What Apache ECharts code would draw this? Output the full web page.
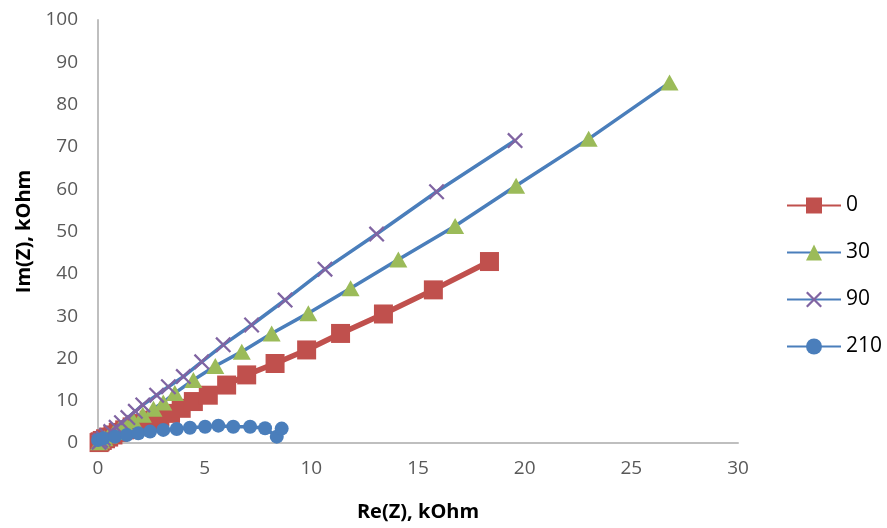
<!DOCTYPE html>
<html>
<head>
<meta charset="utf-8">
<script src="https://cdn.jsdelivr.net/npm/echarts@6/dist/echarts.min.js"></script>
<style>
	html, body { margin: 0; padding: 0; background: #fff; }
	#chart { width: 887px; height: 528px; }
</style>
</head>
<body>
<div id="chart"></div>
<script>
	// legend names
	var seriesNames = ['0', '30', '90', '210'];

	// series 0
	var re0 = [0.05, 0.1, 0.2, 0.35, 0.5, 0.7, 0.95, 1.25, 1.6, 2.0, 2.4, 2.9, 3.4, 3.9, 4.47, 5.17, 6.03, 6.97, 8.3, 9.78, 11.37, 13.38, 15.72, 18.35];
	var im0 = [0.1, 0.3, 0.6, 1.0, 1.4, 1.9, 2.5, 3.1, 3.8, 4.6, 5.4, 6.2, 7.0, 8.2, 9.8, 11.3, 13.7, 16.1, 18.8, 22.0, 25.9, 30.5, 36.2, 42.9];

	// series 30
	var re30 = [0.05, 0.15, 0.3, 0.5, 0.75, 1.0, 1.3, 1.65, 2.1, 2.6, 3.06, 3.6, 4.47, 5.5, 6.74, 8.14, 9.86, 11.84, 14.08, 16.74, 19.6, 23.0, 26.79];
	var im30 = [0.2, 0.6, 1.1, 1.8, 2.6, 3.4, 4.3, 5.4, 6.7, 8.1, 9.6, 11.8, 14.9, 18.2, 21.6, 25.9, 30.7, 36.6, 43.4, 51.3, 60.8, 71.9, 85.2];

	// series 90
	var re90 = [0.05, 0.12, 0.25, 0.4, 0.6, 0.85, 1.1, 1.4, 1.75, 2.1, 2.75, 3.3, 4.0, 4.86, 5.87, 7.2, 8.77, 10.64, 13.06, 15.87, 19.55];
	var im90 = [0.2, 0.6, 1.1, 1.8, 2.7, 3.7, 4.8, 6.0, 7.5, 9.0, 11.3, 13.3, 15.7, 19.2, 23.2, 27.9, 33.8, 41.1, 49.4, 59.4, 71.5];

	// series 210
	var re210 = [0.0, 0.25, 0.8, 1.35, 1.89, 2.44, 3.06, 3.69, 4.31, 5.02, 5.64, 6.34, 7.13, 7.83, 8.38, 8.61];
	var im210 = [0.7, 1.1, 1.5, 1.9, 2.3, 2.7, 3.1, 3.3, 3.6, 3.85, 4.1, 3.85, 3.85, 3.5, 1.5, 3.4];

	// axis ticks
	var xMin = 0, xMax = 30, xStep = 5;
	var yMin = 0, yMax = 100, yStep = 10;

	function pairs(xs, ys) {
		var out = [];
		for (var i = 0; i < xs.length; i++) {
			out.push([xs[i], ys[i]]);
		}
		return out;
	}

	var crossSymbol = 'path://M0,1L1,0L10,9L9,10ZM9,0L10,1L1,10L0,9Z';

	var option = {
		animation: false,
		textStyle: { fontFamily: 'Open Sans' },
		grid: {
			left: 98,
			right: 149,
			top: 20,
			bottom: 85
		},
		legend: {
			orient: 'vertical',
			left: 781,
			top: 190,
			itemWidth: 54,
			itemHeight: 20,
			itemGap: 26,
			textStyle: { fontSize: 21, color: '#000', fontFamily: 'Open Sans' },
			data: seriesNames
		},
		xAxis: {
			type: 'value',
			min: xMin,
			max: xMax,
			interval: xStep,
			name: 'Re(Z), kOhm',
			nameLocation: 'middle',
			nameGap: 59,
			nameTextStyle: { fontSize: 20, fontWeight: 'bold', color: '#000' },
			axisLine: { lineStyle: { color: '#bfbfbf', width: 2 } },
			axisTick: { show: false },
			splitLine: { show: false },
			axisLabel: { fontSize: 19, color: '#595959', margin: 16 }
		},
		yAxis: {
			type: 'value',
			min: yMin,
			max: yMax,
			interval: yStep,
			name: 'Im(Z), kOhm',
			nameLocation: 'middle',
			nameGap: 61,
			nameTextStyle: { fontSize: 20, fontWeight: 'bold', color: '#000' },
			axisLine: { show: true, lineStyle: { color: '#bfbfbf', width: 2 } },
			axisTick: { show: false },
			splitLine: { show: false },
			axisLabel: { fontSize: 19, color: '#595959', margin: 20 }
		},
		series: [
			{
				name: seriesNames[0],
				type: 'line',
				data: pairs(re0, im0),
				symbol: 'rect',
				symbolSize: 19,
				lineStyle: { color: '#c0504d', width: 5.5 },
				itemStyle: { color: '#c0504d' }
			},
			{
				name: seriesNames[1],
				type: 'line',
				data: pairs(re30, im30),
				symbol: 'triangle',
				symbolSize: [18, 16],
				lineStyle: { color: '#4a7ebb', width: 3.5 },
				itemStyle: { color: '#9bbb59' }
			},
			{
				name: seriesNames[2],
				type: 'line',
				data: pairs(re90, im90),
				symbol: crossSymbol,
				symbolSize: 16,
				lineStyle: { color: '#4a7ebb', width: 3.5 },
				itemStyle: { color: '#8064a2' }
			},
			{
				name: seriesNames[3],
				type: 'line',
				data: pairs(re210, im210),
				symbol: 'circle',
				symbolSize: 14,
				lineStyle: { color: '#4a7ebb', width: 3.5 },
				itemStyle: { color: '#4a7ebb' }
			}
		]
	};

	var chart = echarts.init(document.getElementById('chart'));
	chart.setOption(option);
</script>
</body>
</html>
